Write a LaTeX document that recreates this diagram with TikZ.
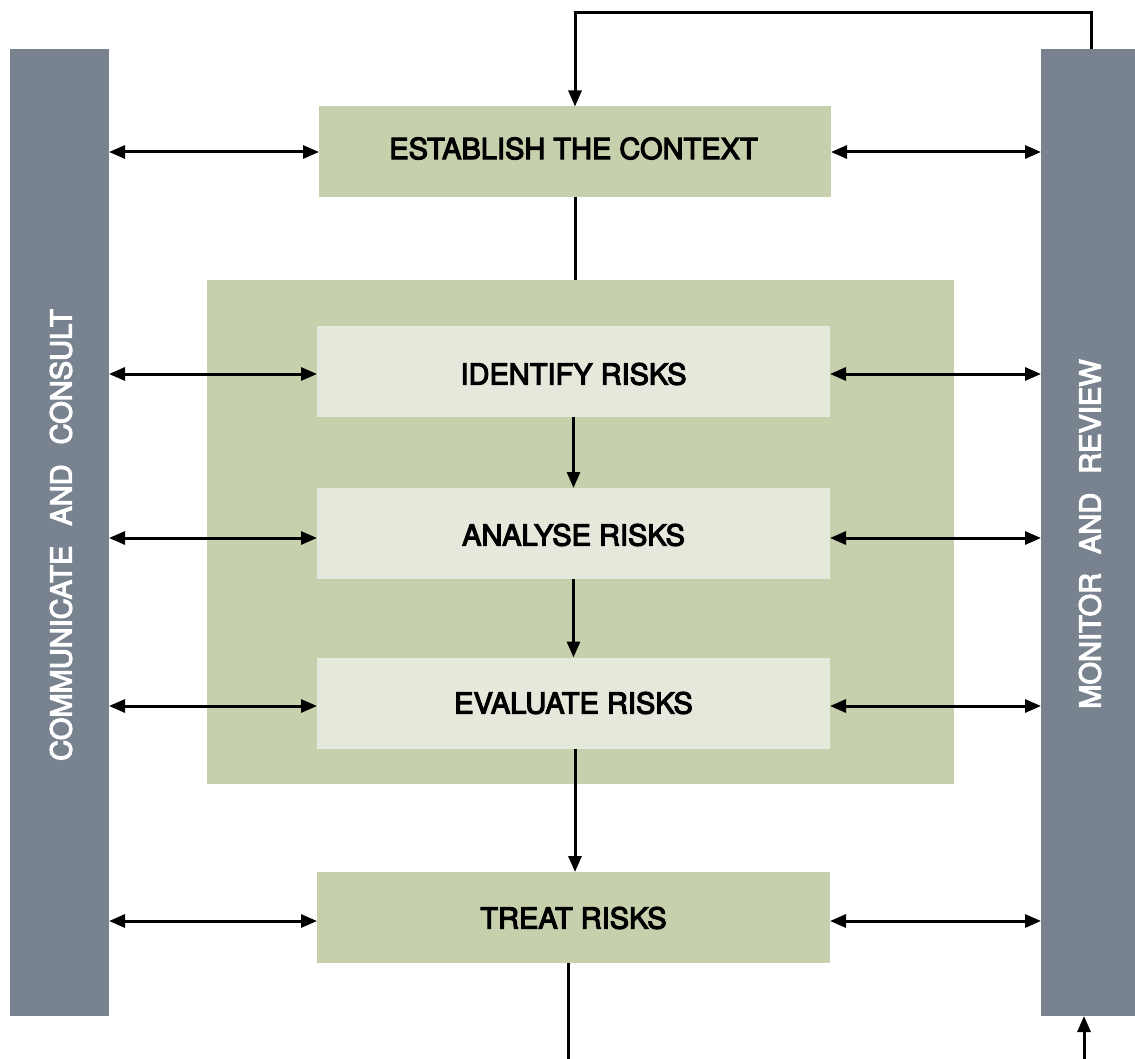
\documentclass[tikz,border=0pt]{standalone}
\usepackage{fontspec}
\setmainfont{TeX Gyre Heros}
\newfontfamily\medfont{TeX Gyre Heros}[RawFeature={embolden=4}]
\usetikzlibrary{arrows.meta,calc}
\definecolor{boxgreen}{HTML}{C6D0AD}
\definecolor{boxlight}{HTML}{E5E9DC}
\definecolor{bargrey}{HTML}{78838F}
\begin{document}
\begin{tikzpicture}[x=1pt,y=-1pt,
  every node/.style={inner sep=0pt,outer sep=0pt},
  lbl/.style={font=\fontsize{29}{32}\medfont},
  stepbox/.style={rectangle,fill=boxgreen,minimum width=512pt,minimum height=91pt},
  substep/.style={rectangle,fill=boxlight,minimum width=513pt,minimum height=91pt},
  bar/.style={rectangle,fill=bargrey,minimum height=967pt},
  conn/.style={line width=3pt,draw=black},
  arr/.style={conn,-{Triangle[length=16pt,width=13pt]}},
  darr/.style={conn,{Triangle[length=16pt,width=13pt]}-{Triangle[length=16pt,width=13pt]}}
]
\useasboundingbox (0,0) rectangle (1135,1059);
\node[bar,minimum width=99pt] (lbar) at (59.5,532.5) {};
\node[bar,minimum width=94pt] (rbar) at (1088,532.5) {};
\node[rotate=90,text=white,lbl] (ltxt) at (61,535) {COMMUNICATE\hspace{20pt}AND\hspace{20pt}CONSULT};
\node[rotate=90,text=white,lbl] (rtxt) at (1090,534) {MONITOR\hspace{19pt}AND\hspace{19pt}REVIEW};
\node[rectangle,fill=boxgreen,minimum width=747pt,minimum height=504pt] (outer) at (580.5,532) {};
\node[stepbox] (est) at (575,152) {};
\node[substep] (ide) at (573.5,371) {};
\node[substep] (ana) at (573.5,533.5) {};
\node[substep] (eva) at (573.5,703) {};
\node[stepbox,minimum width=513pt] (tre) at (573.5,917.5) {};
\node[lbl] (est-t) at (573.5,148.5) {ESTABLISH THE CONTEXT};
\node[lbl] (ide-t) at (573.5,374) {IDENTIFY RISKS};
\node[lbl] (ana-t) at (573.5,535) {ANALYSE RISKS};
\node[lbl] (eva-t) at (573.5,703) {EVALUATE RISKS};
\node[lbl] (tre-t) at (573.5,918) {TREAT RISKS};
\coordinate (topy) at (0,13);
\coordinate (bot) at (568,1059);
\coordinate (botr) at (1084,1059);
% left/right double arrows
\foreach \n/\d in {est/0,ide/3,ana/4.5,eva/3,tre/3.5}{
  \draw[darr] ([yshift=-\d pt]\n.west -| lbar.east) -- ([yshift=-\d pt]\n.west);
  \draw[darr] ([yshift=-\d pt]\n.east) -- ([yshift=-\d pt]\n.east -| rbar.west);
}
% vertical flow
\draw[conn] (est.south) -- (est.south |- outer.north);
\draw[arr] (ide.south) -- (ana.north);
\draw[arr] (ana.south) -- (eva.north);
\draw[arr] ([xshift=1.5pt]eva.south) -- ([xshift=1.5pt]tre.north);
\draw[conn] (tre.south -| bot) -- (bot);
\draw[arr] (botr) -- (botr |- rbar.south);
\draw[arr] ([xshift=3pt]rbar.north) -- ([xshift=3pt]rbar.north |- topy) -| (est.north);
\end{tikzpicture}
\end{document}
